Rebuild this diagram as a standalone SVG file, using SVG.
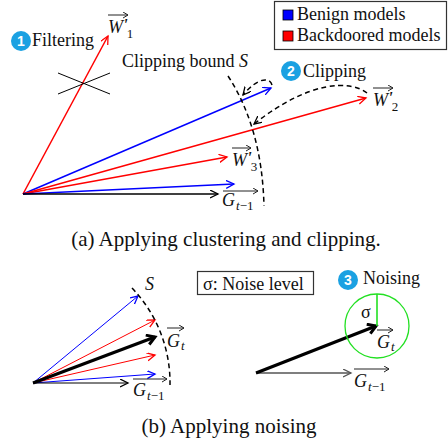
<svg xmlns="http://www.w3.org/2000/svg" width="448" height="446" viewBox="0 0 448 446">
<style>
text{font-family:"Liberation Serif","Times New Roman",serif;fill:#111}
.t18{font-size:18px}
.cap{font-size:21px}
.it{font-style:italic}
.up{font-style:italic;font-size:17px;font-weight:bold}
.sub{font-size:13px}
.subn{font-size:13px;font-style:normal;font-weight:normal}
.num{font-family:"Liberation Sans",Arial,sans-serif;font-size:14px;font-weight:bold;fill:#fff;text-anchor:middle}
.badge{fill:#1ba1e2}
.red{stroke:#ff0000;stroke-width:1.5;fill:none}
.blue{stroke:#0000ff;stroke-width:1.5;fill:none}
.blk{stroke:#000;stroke-width:1.5;fill:none}
.thin{stroke-width:1}
.dash{stroke:#000;stroke-width:1.5;fill:none;stroke-dasharray:5 3.5}
.ov{stroke:#222;stroke-width:1;fill:none}
</style>
<defs>
<marker id="mr" markerUnits="userSpaceOnUse" markerWidth="10" markerHeight="10" refX="8" refY="4" orient="auto"><path d="M0,0 L8,4 L0,8" fill="none" stroke="#ff0000" stroke-width="1.3"/></marker>
<marker id="mb" markerUnits="userSpaceOnUse" markerWidth="10" markerHeight="10" refX="8" refY="4" orient="auto"><path d="M0,0 L8,4 L0,8" fill="none" stroke="#0000ff" stroke-width="1.3"/></marker>
<marker id="mk" markerUnits="userSpaceOnUse" markerWidth="10" markerHeight="10" refX="8" refY="4" orient="auto"><path d="M0,0 L8,4 L0,8" fill="none" stroke="#000" stroke-width="1.3"/></marker>
<marker id="mg" markerUnits="userSpaceOnUse" markerWidth="10" markerHeight="10" refX="8" refY="4" orient="auto"><path d="M0,0 L8,4 L0,8" fill="none" stroke="#555" stroke-width="1.3"/></marker>
<marker id="mT" markerUnits="userSpaceOnUse" markerWidth="14" markerHeight="14" refX="9" refY="6" orient="auto"><path d="M1,1 L9,6 L1,11" fill="none" stroke="#000" stroke-width="3"/></marker>
<marker id="ms" markerUnits="userSpaceOnUse" markerWidth="8" markerHeight="8" refX="5" refY="3" orient="auto"><path d="M0,0 L5,3 L0,6" fill="none" stroke="#222" stroke-width="1"/></marker>
</defs>

<g id="connectors">
  <!-- panel (a) vectors -->
  <line class="red" x1="23" y1="194" x2="108" y2="36" marker-end="url(#mr)"/>
  <line class="blue" x1="23" y1="194" x2="271" y2="88" marker-end="url(#mb)"/>
  <line class="red" x1="23" y1="194" x2="366" y2="98" marker-end="url(#mr)"/>
  <line class="red" x1="23" y1="194" x2="227" y2="157" marker-end="url(#mr)"/>
  <line class="blue" x1="23" y1="194" x2="234" y2="184" marker-end="url(#mb)"/>
  <line class="blk" x1="23" y1="194" x2="218" y2="194" marker-end="url(#mk)"/>
  <!-- filtering cross -->
  <line class="blk thin" x1="58" y1="73" x2="110" y2="94"/>
  <line class="blk thin" x1="58" y1="94" x2="110" y2="73"/>
  <!-- clipping bound and clipping arrows -->
  <path class="dash" d="M228,76 Q262,128 264,206"/>
  <path class="dash" d="M272,85 C270,77 258,77 243,95" marker-end="url(#mk)"/>
  <path class="dash" d="M367,93 C350,80 310,80 254,124" marker-end="url(#mk)"/>

  <!-- panel (b) left -->
  <line class="blue thin" x1="33" y1="383" x2="138" y2="296" marker-end="url(#mb)"/>
  <line class="red thin" x1="33" y1="383" x2="155" y2="320" marker-end="url(#mr)"/>
  <line class="red thin" x1="33" y1="383" x2="155" y2="355" marker-end="url(#mr)"/>
  <line class="blue thin" x1="33" y1="383" x2="155" y2="374" marker-end="url(#mb)"/>
  <line class="blk thin" x1="33" y1="383" x2="128" y2="383" marker-end="url(#mk)"/>
  <line stroke="#000" stroke-width="3.2" x1="33" y1="383" x2="155" y2="337" marker-end="url(#mT)"/>
  <path class="dash" d="M132,288 A137,137 0 0 1 170,385"/>

  <!-- panel (b) right -->
  <line stroke="#555" stroke-width="1.5" x1="256" y1="373" x2="351" y2="373" marker-end="url(#mg)"/>
  <line stroke="#000" stroke-width="3.2" x1="256" y1="373" x2="376" y2="326" marker-end="url(#mT)"/>
  <circle cx="377" cy="326" r="32" fill="none" stroke="#22e022" stroke-width="1.3"/>
  <line x1="377" y1="326" x2="377" y2="294" stroke="#22e022" stroke-width="1.6"/>
</g>

<g id="legend">
  <rect x="274.5" y="1.5" width="172" height="48" fill="#fff" stroke="#333" stroke-width="1.2"/>
  <rect x="283" y="10" width="10" height="10" fill="#0000ff" stroke="#000" stroke-width="0.8"/>
  <rect x="283" y="31" width="10" height="10" fill="#ff0000" stroke="#000" stroke-width="0.8"/>
  <text class="t18" x="297" y="20">Benign models</text>
  <text class="t18" x="297" y="41">Backdoored models</text>
</g>

<g id="step-filtering">
  <circle class="badge" cx="21" cy="41" r="10"/>
  <text class="num" x="21" y="46">1</text>
  <text class="t18" x="32" y="46">Filtering</text>
</g>

<g id="step-clipping">
  <circle class="badge" cx="291" cy="71" r="10"/>
  <text class="num" x="291" y="76">2</text>
  <text class="t18" x="303" y="77">Clipping</text>
  <text class="t18" x="122" y="67">Clipping bound <tspan class="it">S</tspan></text>
</g>

<g id="label-W1">
  <line class="ov" x1="108" y1="15" x2="128" y2="15" marker-end="url(#ms)"/>
  <text class="t18 it" x="108" y="33">W<tspan class="up" dy="-3">'</tspan><tspan class="subn" dx="-1" dy="8">1</tspan></text>
</g>
<g id="label-W2">
  <line class="ov" x1="373" y1="88" x2="393" y2="88" marker-end="url(#ms)"/>
  <text class="t18 it" x="373" y="106">W<tspan class="up" dy="-3">'</tspan><tspan class="subn" dx="-1" dy="8">2</tspan></text>
</g>
<g id="label-W3">
  <line class="ov" x1="232" y1="148" x2="251" y2="148" marker-end="url(#ms)"/>
  <text class="t18 it" x="232" y="166">W<tspan class="up" dy="-3">'</tspan><tspan class="subn" dx="-1" dy="8">3</tspan></text>
</g>
<g id="label-Gt1-a">
  <line class="ov" x1="223" y1="191" x2="258" y2="191" marker-end="url(#ms)"/>
  <text class="t18 it" x="222" y="206">G<tspan class="sub" dx="1" dy="4">t</tspan><tspan class="subn">−1</tspan></text>
</g>

<g id="caption-a">
  <text class="cap" x="226" y="246" text-anchor="middle">(a) Applying clustering and clipping.</text>
</g>

<g id="label-S-b">
  <text class="t18 it" x="145" y="290">S</text>
</g>
<g id="label-Gt-b">
  <line class="ov" x1="167" y1="328" x2="184" y2="328" marker-end="url(#ms)"/>
  <text class="t18 it" x="167" y="347">G<tspan class="sub" dx="1" dy="3">t</tspan></text>
</g>
<g id="label-Gt1-b">
  <line class="ov" x1="133" y1="379" x2="167" y2="379" marker-end="url(#ms)"/>
  <text class="t18 it" x="133" y="396">G<tspan class="sub" dx="1" dy="4">t</tspan><tspan class="subn">−1</tspan></text>
</g>

<g id="legend-sigma">
  <rect x="197.5" y="271.5" width="116" height="23" fill="#fff" stroke="#333" stroke-width="1.2"/>
  <text class="t18" x="203" y="290">σ: Noise level</text>
</g>

<g id="step-noising">
  <circle class="badge" cx="348" cy="280" r="10"/>
  <text class="num" x="348" y="285">3</text>
  <text class="t18" x="363" y="284">Noising</text>
  <text class="t18" x="361" y="318">σ</text>
</g>
<g id="label-Gt-c">
  <line class="ov" x1="377" y1="330" x2="393" y2="330" marker-end="url(#ms)"/>
  <text class="t18 it" x="377" y="348">G<tspan class="sub" dx="1" dy="3">t</tspan></text>
</g>
<g id="label-Gt1-c">
  <line class="ov" x1="354" y1="369" x2="389" y2="369" marker-end="url(#ms)"/>
  <text class="t18 it" x="354" y="387">G<tspan class="sub" dx="1" dy="4">t</tspan><tspan class="subn">−1</tspan></text>
</g>

<g id="caption-b">
  <text class="cap" x="229" y="433" text-anchor="middle">(b) Applying noising</text>
</g>
</svg>
